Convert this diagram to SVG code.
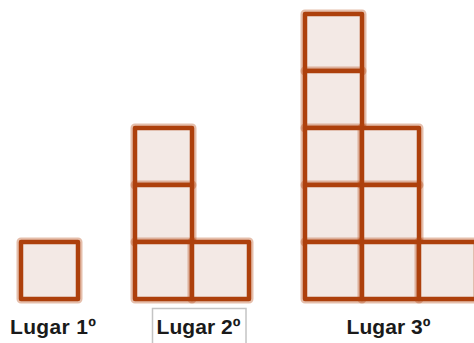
<svg xmlns="http://www.w3.org/2000/svg" width="474" height="343" viewBox="0 0 474 343">
<style>
.halo{fill:none;stroke:#b5450f;stroke-opacity:0.35;stroke-width:9;stroke-linejoin:round}
.sq{fill:#f3e9e5;stroke:#ad400c;stroke-width:4.5;stroke-linejoin:round}
.lbl{font-family:"Liberation Sans",Arial,sans-serif;font-weight:bold;font-size:21px;fill:#1a1a1a;text-anchor:middle}
</style>
<defs>
<g id="cell"><rect class="halo" x="0" y="0" width="57" height="57"/><rect class="sq" x="0" y="0" width="57" height="57"/></g>
</defs>
<rect width="474" height="343" fill="#ffffff"/>
<g id="lugar1">
<use href="#cell" x="21" y="242"/>
<text class="lbl" x="53" y="334" textLength="86">Lugar 1º</text>
</g>
<g id="lugar2">
<use href="#cell" x="135" y="128"/>
<use href="#cell" x="135" y="185"/>
<use href="#cell" x="135" y="242"/>
<use href="#cell" x="192" y="242"/>
<rect x="152.5" y="308.5" width="93.5" height="40" fill="none" stroke="#c4c4c4" stroke-width="1.5"/>
<text class="lbl" x="198.5" y="334" textLength="84">Lugar 2º</text>
</g>
<g id="lugar3">
<use href="#cell" x="305" y="14"/>
<use href="#cell" x="305" y="71"/>
<use href="#cell" x="305" y="128"/>
<use href="#cell" x="305" y="185"/>
<use href="#cell" x="305" y="242"/>
<use href="#cell" x="362" y="128"/>
<use href="#cell" x="362" y="185"/>
<use href="#cell" x="362" y="242"/>
<use href="#cell" x="419" y="242"/>
<text class="lbl" x="388.5" y="334" textLength="84">Lugar 3º</text>
</g>
<g id="connectors"></g>
</svg>
